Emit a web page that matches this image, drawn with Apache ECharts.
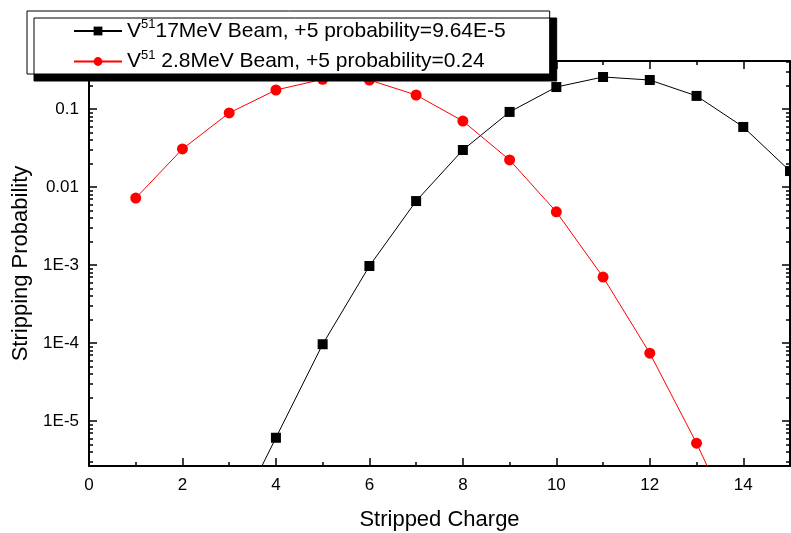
<!DOCTYPE html>
<html>
<head>
<meta charset="utf-8">
<script src="https://cdn.jsdelivr.net/npm/echarts@6/dist/echarts.min.js"></script>
<style>
  html, body { margin: 0; padding: 0; background: #fff; }
  #chart { width: 791px; height: 533px; }
</style>
</head>
<body>
<div id="chart"></div>
<script>
// stripped charge (x) and stripping probability (y, log) for both beams
var charge17 = [3, 4, 5, 6, 7, 8, 9, 10, 11, 12, 13, 14, 15];
var prob17 = [3.8e-7, 6.1e-6, 9.64e-5, 9.7e-4, 6.6e-3, 0.0298, 0.0916, 0.191, 0.257, 0.235, 0.147, 0.0588, 0.016];

var charge28 = [1, 2, 3, 4, 5, 6, 7, 8, 9, 10, 11, 12, 13, 14];
var prob28 = [7.2e-3, 0.0307, 0.089, 0.175, 0.24, 0.235, 0.151, 0.070, 0.0222, 4.8e-3, 7.0e-4, 7.4e-5, 5.2e-6, 2.7e-7];

var seriesNames = ['V51 17MeV Beam, +5 probability=9.64E-5', 'V51 2.8MeV Beam, +5 probability=0.24'];
var legendRest = ['17MeV Beam, +5 probability=9.64E-5', ' 2.8MeV Beam, +5 probability=0.24'];

var yTicks = [1e-5, 1e-4, 1e-3, 0.01, 0.1];
var yTickLabels = ['1E-5', '1E-4', '1E-3', '0.01', '0.1'];
var yMin = 2.65e-6, yMax = 0.412;

// minor log ticks 2..9 in every decade
var yMinor = [];
for (var d = -6; d <= -1; d++) {
    for (var k = 2; k <= 9; k++) {
        var v = k * Math.pow(10, d);
        if (v >= yMin && v <= yMax) yMinor.push(v);
    }
}

var FONT = 'Liberation Sans';

function pairs (xs, ys) {
    return xs.map(function (x, i) { return [x, ys[i]]; });
}

function yLabel (value) {
    for (var i = 0; i < yTicks.length; i++) {
        if (Math.abs(Math.log10(value) - Math.log10(yTicks[i])) < 1e-6) return yTickLabels[i];
    }
    return '';
}

function logAxis (position, values, len, withLine, withLabel) {
    return {
        type: 'log',
        logBase: 10,
        position: position,
        min: yMin,
        max: yMax,
        name: withLabel ? 'Stripping Probability' : '',
        nameLocation: 'middle',
        nameGap: 53,
        nameTextStyle: {fontFamily: FONT, fontSize: 22, color: '#000'},
        axisLine: {show: withLine, lineStyle: {color: '#000', width: 2}},
        axisTick: {show: true, inside: true, length: len, customValues: values, lineStyle: {color: '#000', width: 1.5}},
        axisLabel: {
            show: withLabel,
            customValues: yTicks,
            formatter: yLabel,
            margin: 10,
            fontFamily: FONT,
            fontSize: 17,
            color: '#000'
        },
        splitLine: {show: false}
    };
}

function chargeAxis (position, withLabel) {
    return {
        type: 'value',
        position: position,
        min: 0,
        max: 15,
        interval: 2,
        name: withLabel ? 'Stripped Charge' : '',
        nameLocation: 'middle',
        nameGap: 43,
        nameTextStyle: {fontFamily: FONT, fontSize: 22, color: '#000'},
        axisLine: {show: true, lineStyle: {color: '#000', width: 2}},
        axisTick: {show: true, inside: true, length: 8, lineStyle: {color: '#000', width: 1.5}},
        minorTick: {show: true, splitNumber: 2, length: 4, lineStyle: {color: '#000', width: 1.5}},
        axisLabel: {
            show: withLabel,
            showMaxLabel: false,
            margin: 11,
            fontFamily: FONT,
            fontSize: 17,
            color: '#000'
        },
        splitLine: {show: false},
        minorSplitLine: {show: false}
    };
}

var chart = echarts.init(document.getElementById('chart'));

var option = {
    animation: false,
    backgroundColor: '#fff',
    grid: {left: 89, right: 1, top: 61, bottom: 67, outerBoundsMode: 'none'},
    xAxis: [chargeAxis('bottom', true), chargeAxis('top', false)],
    yAxis: [
        logAxis('left', yTicks, 8, true, true),
        logAxis('left', yMinor, 4, false, false),
        logAxis('right', yTicks, 8, true, false),
        logAxis('right', yMinor, 4, false, false)
    ],
    legend: {
        orient: 'vertical',
        left: 27,
        top: 11,
        padding: [7, 44, 2, 46],
        itemGap: 7,
        itemWidth: 48,
        itemHeight: 11,
        backgroundColor: '#fff',
        borderColor: '#000',
        borderWidth: 1,
        borderRadius: 0,
        shadowColor: '#000',
        shadowBlur: 0,
        shadowOffsetX: 7,
        shadowOffsetY: 7,
        data: seriesNames,
        formatter: function (name) {
            var i = seriesNames.indexOf(name);
            return '{b|V}{s|51}{b|' + legendRest[i] + '}';
        },
        textStyle: {
            fontFamily: FONT,
            fontSize: 21,
            color: '#000',
            rich: {
                b: {fontFamily: FONT, fontSize: 21, lineHeight: 26, color: '#000'},
                s: {fontFamily: FONT, fontSize: 13, lineHeight: 9, verticalAlign: 'top', color: '#000'}
            }
        }
    },
    series: [
        {
            name: seriesNames[0],
            type: 'line',
            xAxisIndex: 0,
            yAxisIndex: 0,
            data: pairs(charge17, prob17),
            symbol: 'rect',
            symbolSize: 10,
            itemStyle: {color: '#000'},
            lineStyle: {color: '#000', width: 1}
        },
        {
            name: seriesNames[1],
            type: 'line',
            xAxisIndex: 0,
            yAxisIndex: 0,
            data: pairs(charge28, prob28),
            symbol: 'circle',
            symbolSize: 11,
            itemStyle: {color: '#ff0000'},
            lineStyle: {color: '#ff0000', width: 1}
        }
    ]
};

chart.setOption(option);
</script>
</body>
</html>
